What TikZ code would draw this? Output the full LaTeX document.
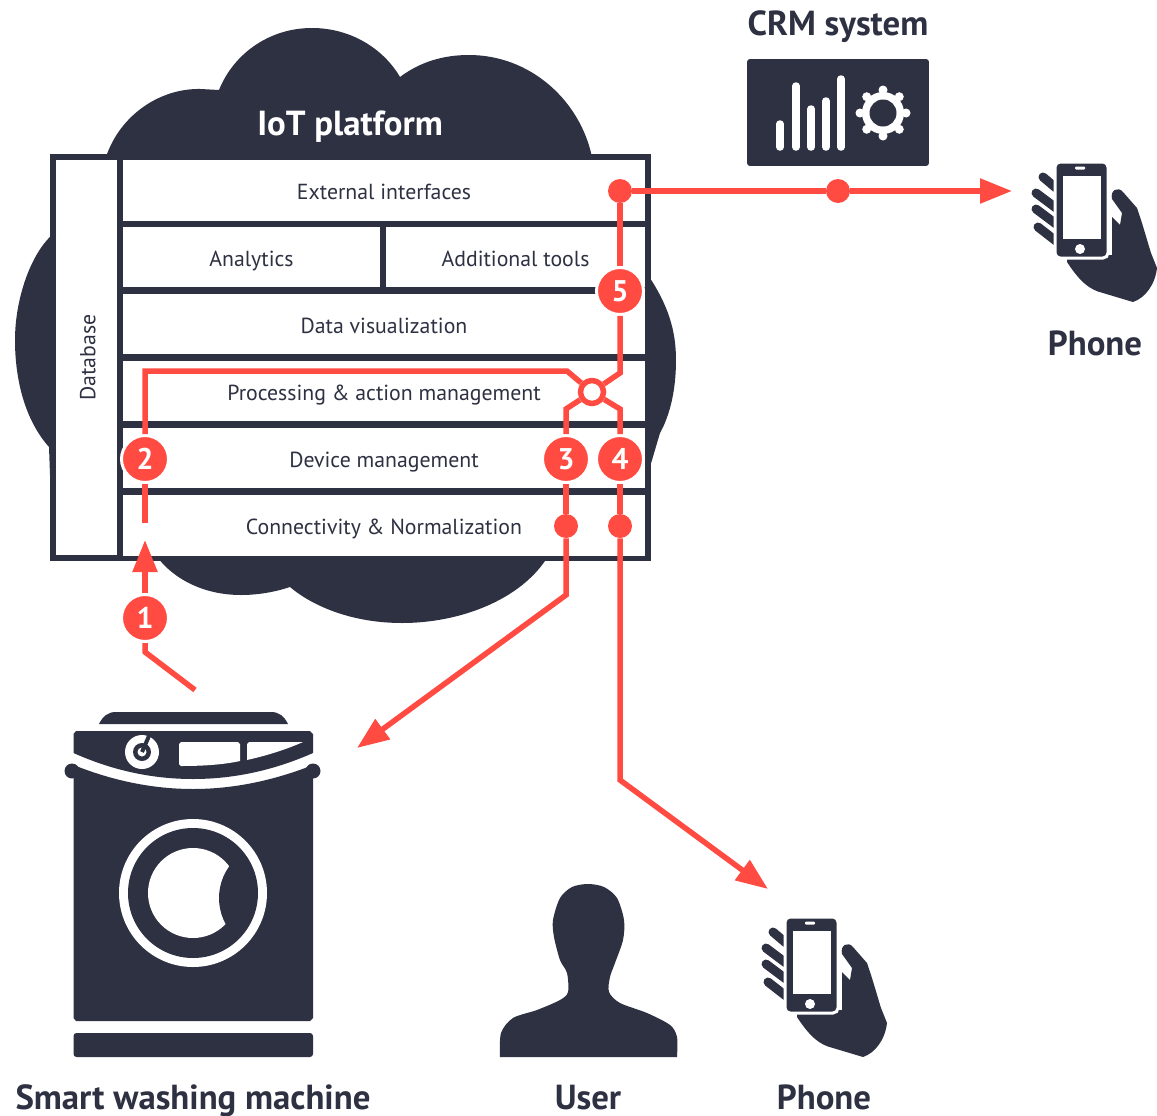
\documentclass[tikz,border=0pt]{standalone}
\usepackage{fontspec}
\setmainfont{PT Sans}
\usetikzlibrary{positioning,arrows.meta}
\definecolor{ink}{HTML}{2E3142}
\definecolor{flow}{HTML}{FF4B42}
\tikzset{
  handphone/.pic={
    \fill[ink] (1067,255) -- (1067,262) .. controls (1080,282) and (1090,290) .. (1103,293) -- (1133,302)
      .. controls (1145,298) and (1155,285) .. (1157,268) -- (1151,253) .. controls (1147,240) and (1142,222) .. (1137,208)
      -- (1123,192) .. controls (1118,186) and (1110,190) .. (1112,199) -- (1122,213) -- (1120,225) -- (1112,217) -- (1112,255) -- cycle;
    \foreach \a/\b/\c/\d in {1043/177/1056/188,1036/193/1056/208,1036/209/1056/224,1038/227/1056/241} {
      \draw[ink, line width=.18cm, line cap=round] (\a,\b) -- (\c,\d);
    }
    \draw[draw=white, fill=ink, line width=.06cm, rounded corners=.1cm] (1055,162) rectangle (1108,258);
    \fill[white] (1063,176) rectangle (1101,239);
    \fill[white] (1080,249) circle [radius=5];
    \fill[white, rounded corners=.02cm] (1075,166.5) rectangle (1085,169.5);
  }
}
\begin{document}
\begin{tikzpicture}[x=.02cm, y=-.02cm,
  layer/.style={draw=ink, fill=white, line width=.12cm, inner sep=0pt, text=ink, text height=.44cm, text depth=.08cm, font=\fontsize{12.4}{15}\selectfont},
  title/.style={text=ink, font=\fontsize{19.8}{22}\selectfont\bfseries, inner sep=0pt},
  badge/.style={circle, fill=flow, draw=white, line width=.06cm, minimum size=.94cm, inner sep=0pt, text=white, font=\fontsize{17}{20}\selectfont\bfseries},
  dot/.style={circle, fill=flow, minimum size=.48cm, inner sep=0pt},
  flowline/.style={draw=flow, line width=.11cm},
  flowarrow/.style={flowline, -{Triangle[length=.64cm, width=.48cm]}}]
\useasboundingbox (0,0) rectangle (1157,1116);
\fill[ink] (106,157) .. controls (120,115) and (160,88) .. (201,89) -- (219,90)
  .. controls (233,55) and (268,28) .. (312,28) .. controls (350,28) and (383,48) .. (400,77)
  .. controls (420,62) and (443,55) .. (469,55) .. controls (530,55) and (580,100) .. (592,157)
  -- (648,157) -- (648,275) .. controls (668,305) and (676,330) .. (676,360)
  .. controls (676,390) and (670,415) .. (660,433) -- (647,477) -- (648,558) -- (547,558)
  .. controls (520,600) and (460,623) .. (402,623) .. controls (355,623) and (315,608) .. (290,587)
  .. controls (275,592) and (258,595) .. (241,595) .. controls (205,595) and (175,580) .. (158,558)
  -- (53,558) -- (49,447) .. controls (25,420) and (15,380) .. (15,340) .. controls (15,300) and (30,255) .. (52,235) -- (53,157) -- cycle;
\node[layer, rotate=90, minimum width=8.02cm, minimum height=1.34cm] (database) at (86.5,357.5) {Database};
\foreach \n/\t/\y/\h in {interfaces/External interfaces/190.5/1.33,visual/Data visualization/324/1.34,process/Processing \& action management/391/1.34,device/Device management/458/1.34,connect/Connectivity \& Normalization/525/1.34} {
  \node[layer, minimum width=10.56cm, minimum height=\h cm] (\n) at (384,\y) {\t};
}
\node[layer, minimum width=5.26cm, minimum height=1.34cm] (analytics) at (251.5,257) {Analytics};
\node[layer, minimum width=5.3cm, minimum height=1.34cm] (tools) at (515.5,257) {Additional tools};
\node[text=white, font=\fontsize{19.8}{22}\selectfont\bfseries, inner sep=0pt] (platform) at (350,127) {IoT platform};
\node[fill=ink, rounded corners=.06cm, minimum width=3.64cm, minimum height=2.14cm] (crm) at (838,112.5) {};
\node[title, above=.31cm of crm] (crmlabel) {CRM system};
\foreach \x/\t in {780/124,796/86,811/109,826/101,841/79} {
  \draw[white, line width=.15cm, line cap=round] (\x,147) -- (\x,\t);
}
\foreach \a in {0,45,...,315} {
  \fill[white] (883,113) ++(\a:23) circle [radius=4.5];
}
\fill[white] (883,113) circle [radius=21];
\fill[ink] (883,113) circle [radius=13.5];
\pic (farphone) at (0,0) {handphone};
\pic (nearphone) at (-270,755) {handphone};
\node[title] (farlabel) at (1095,343) {Phone};
\node[title, anchor=base] (nearlabel) at (824,1109) {Phone};
\fill[ink] (99,724) .. controls (103,716) and (108,712) .. (116,712) -- (271,712) .. controls (279,712) and (284,716) .. (288,724) -- cycle;
\fill[ink] (76,731) -- (310,731) -- (313,734) -- (313,753) .. controls (270,772) and (230,779) .. (193,779) .. controls (156,779) and (116,772) .. (73.5,753) -- (73.5,734) -- cycle;
\fill[ink] (73.5,765) .. controls (116,782) and (156,789) .. (193,789) .. controls (230,789) and (270,782) .. (313,765) -- (313,1018) -- (310,1021) -- (76,1021) -- (73.5,1018) -- cycle;
\fill[ink] (72,771) circle [radius=7.5] (313,771) circle [radius=7.5];
\fill[ink, rounded corners=.06cm] (73.5,1033) rectangle (313,1057);
\fill[white] (142,752) circle [radius=17];
\fill[ink] (142,752) circle [radius=9];
\fill[white] (142,752) circle [radius=4.5];
\draw[ink, line width=.08cm] (142,752) -- (149,736);
\fill[white] (181,742) -- (238,742) -- (240,744) -- (240,761) .. controls (222,765) and (200,766) .. (181,766) -- (179,764) -- (179,744) -- cycle;
\fill[white] (249,742) -- (303,742) .. controls (285,750) and (265,756) .. (247,760) -- (247,744) -- cycle;
\fill[white] (193,893) circle [radius=74];
\fill[ink] (193,893) circle [radius=65];
\fill[white] (193,893) circle [radius=45];
\begin{scope}
  \clip (193,893) circle [radius=60];
  \fill[ink] (273,898) circle [radius=54];
\end{scope}
\node[title, anchor=base] (washerlabel) at (193,1109) {Smart washing machine};
\fill[ink] plot[smooth] coordinates {(500,1057) (501,1033) (513,1018) (537,1010) (560,1000) (568,992) (567,973) (560,960) (554,937) (553,920) (560,898) (572,887) (588,884) (604,887) (617,898) (624,920) (623,940) (615,963) (610,977) (609,992) (620,1003) (647,1013) (670,1025) (677,1037) (677,1057)} -- cycle;
\node[title, anchor=base] (userlabel) at (588,1109) {User};
\foreach \n/\x/\y in {1/145/618,2/145/459,3/566/459,4/620/459,5/620/291} {
  \node[badge] (n\n) at (\x,\y) {\n};
}
\foreach \n/\x/\y in {ext/620/191,crmdot/838/191,dev3/566/526,dev4/620/526} {
  \node[dot] (\n) at (\x,\y) {};
}
\node[circle, draw=flow, fill=white, line width=.11cm, minimum size=.46cm, inner sep=0pt] (hub) at (592,392) {};
\coordinate (washerout) at (195,690);
\coordinate (bend1) at (145,652);
\coordinate (entry) at (145,540);
\coordinate (gap) at (145,523);
\coordinate (bend2) at (145,371);
\coordinate (bend2b) at (567,371);
\coordinate (bend5) at (620,373);
\coordinate (bend3) at (566,409);
\coordinate (bend4) at (620,409);
\coordinate (bend3b) at (566,595);
\coordinate (bend4b) at (620,780);
\coordinate (washerin) at (357,748);
\coordinate (phonein) at (768,889);
\coordinate (farin) at (1012,191);
\draw[flowline] (washerout) -- (bend1) -- (n1);
\draw[flowarrow] (n1) -- (entry);
\draw[flowline] (gap) -- (n2);
\draw[flowline] (n2) -- (bend2) -- (bend2b) -- (hub);
\draw[flowline] (hub) -- (bend5) -- (n5);
\draw[flowline] (n5) -- (ext);
\draw[flowline] (ext) -- (crmdot);
\draw[flowarrow] (crmdot) -- (farin);
\draw[flowline] (hub) -- (bend3) -- (n3);
\draw[flowline] (hub) -- (bend4) -- (n4);
\draw[flowline] (n3) -- (dev3);
\draw[flowline] (n4) -- (dev4);
\draw[flowarrow] (dev3) -- (bend3b) -- (washerin);
\draw[flowarrow] (dev4) -- (bend4b) -- (phonein);
\end{tikzpicture}
\end{document}
